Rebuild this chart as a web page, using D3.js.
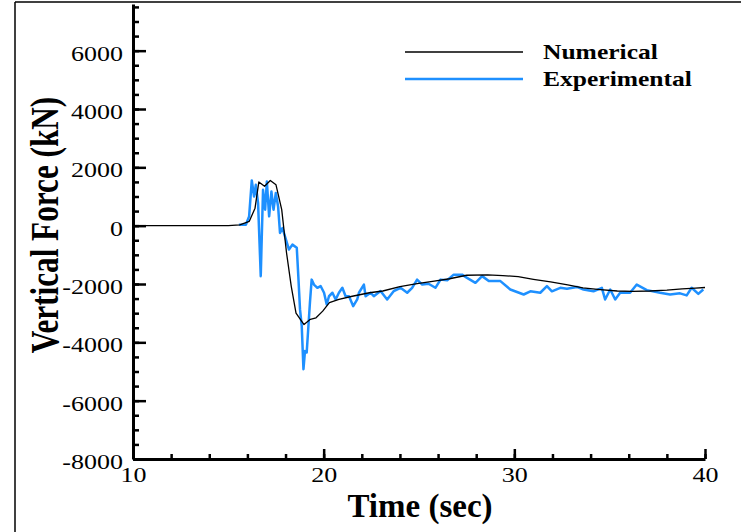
<!DOCTYPE html>
<html>
  <head>
    <meta charset="utf-8">
    <script src="https://d3js.org/d3.v7.js"></script>
    <style>
      body { margin: 0; background: #fff; }
      text { font-family: "Liberation Serif", "Times New Roman", serif; }
    </style>
  </head>
  <body>
    <svg id="myPlot" width="745" height="532"></svg>
    <script>
      // Data (time in sec, force in kN)
      var numTime  = [10, 15.0, 15.6, 16.1, 16.4, 16.6, 16.9, 17.2, 17.5, 17.8, 18.05, 18.3, 18.55, 18.97, 19.3, 19.6, 19.95, 20.3, 20.8, 21.5, 22.4, 23.1, 24.0, 24.9, 25.8, 26.6, 27.5, 28.6, 29.4, 30.2, 31.0, 31.9, 32.8, 33.6, 34.5, 35.4, 36.2, 37.1, 38.0, 38.8, 39.5, 40];
      var numForce = [0, 0, 30, 150, 600, 1500, 1350, 1550, 1400, 550, -920, -2080, -3000, -3390, -3210, -3160, -2930, -2640, -2530, -2420, -2300, -2240, -2090, -1990, -1900, -1820, -1700, -1690, -1710, -1750, -1840, -1930, -2030, -2130, -2190, -2240, -2250, -2240, -2210, -2170, -2140, -2120];

      var expTime  = [15.55, 15.92, 16.09, 16.23, 16.35, 16.44, 16.56, 16.70, 16.82, 16.93, 17.02, 17.14, 17.26, 17.37, 17.49, 17.61, 17.71, 17.84, 17.97, 18.18, 18.36, 18.59, 18.67, 18.76, 18.85, 18.94, 19.02, 19.11, 19.20, 19.28, 19.37, 19.49, 19.67, 19.84, 20.02, 20.16, 20.28, 20.46, 20.63, 20.80, 20.98, 21.15, 21.33, 21.55, 21.76, 21.85, 22.11, 22.2, 22.46, 22.63, 22.98, 23.33, 23.68, 24.03, 24.38, 24.64, 24.9, 25.17, 25.5, 25.86, 26.13, 26.48, 26.82, 27.26, 27.52, 27.96, 28.31, 28.66, 29.27, 29.79, 30.49, 30.84, 31.36, 31.71, 31.97, 32.41, 32.76, 33.28, 33.63, 34.15, 34.59, 34.76, 35.03, 35.29, 35.55, 36.07, 36.42, 36.95, 37.64, 38.17, 38.69, 39.04, 39.3, 39.65, 39.91];
      var expForce = [30, 30, 320, 1550, 1000, 1400, 775, -1730, 1230, 547, 1515, 320, 1170, 547, 1120, 660, -250, -80, -365, -820, -650, -760, -1730, -2870, -3440, -4920, -4300, -4350, -3440, -2640, -1850, -2020, -2130, -2070, -2300, -2700, -2420, -2300, -2530, -2300, -2130, -2420, -2420, -2760, -2530, -2300, -2020, -2420, -2300, -2420, -2240, -2530, -2240, -2130, -2300, -2130, -1850, -2020, -1990, -2130, -1850, -1870, -1680, -1680, -1790, -1960, -1730, -1900, -1900, -2190, -2360, -2250, -2300, -2070, -2250, -2130, -2160, -2100, -2190, -2250, -2130, -2530, -2190, -2530, -2300, -2300, -2020, -2210, -2300, -2360, -2320, -2390, -2130, -2340, -2190];

      var xMajor = [10, 20, 30, 40];
      var yMajor = [-8000, -6000, -4000, -2000, 0, 2000, 4000, 6000];
      var seriesNames = ["Numerical", "Experimental"];
      var seriesColors = ["#000000", "#1e90ff"];

      var svg = d3.select("#myPlot");

      // stretch text glyphs horizontally by a factor
      function stretch(sel, k) {
        sel.each(function () {
          var w = this.getComputedTextLength();
          d3.select(this).attr("textLength", w * k).attr("lengthAdjust", "spacingAndGlyphs");
        });
      }

      // outer frame (top and left edges)
      svg.append("line").attr("x1", 15).attr("y1", 2).attr("x2", 741).attr("y2", 2)
        .attr("stroke", "#000").attr("stroke-width", 1.5);
      svg.append("line").attr("x1", 15).attr("y1", 2).attr("x2", 15).attr("y2", 532)
        .attr("stroke", "#000").attr("stroke-width", 1.5);

      var x = d3.scaleLinear().domain([10, 40]).range([133, 705]);
      var y = d3.scaleLinear().domain([-8000, 7600]).range([459, 4]);

      // minor ticks
      svg.append("g")
        .attr("transform", "translate(0,459)")
        .call(d3.axisBottom(x).tickValues(d3.range(10, 41, 2)).tickSizeInner(-5).tickSizeOuter(0).tickFormat(""))
        .call(function (g) { g.select(".domain").remove(); g.selectAll("line").attr("stroke-width", 2.5); });
      svg.append("g")
        .attr("transform", "translate(133,0)")
        .call(d3.axisLeft(y).tickValues(d3.range(-8000, 7600, 500)).tickSizeInner(-6).tickSizeOuter(0).tickFormat(""))
        .call(function (g) { g.select(".domain").remove(); g.selectAll("line").attr("stroke-width", 2.5); });

      // X Axis
      var xAxis = svg.append("g")
        .attr("transform", "translate(0,459)")
        .call(d3.axisBottom(x).tickValues(xMajor).tickSizeInner(-10).tickSizeOuter(0).tickPadding(9)
          .tickFormat(function (d) { return String(d); }));
      xAxis.select(".domain").attr("stroke-width", 3);
      xAxis.selectAll("line").attr("stroke-width", 2.5);
      xAxis.selectAll("text")
        .attr("font-size", 20).attr("fill", "#000")
        .attr("font-family", "'Liberation Serif', serif")
        .call(stretch, 1.3);

      // Y Axis
      var yAxis = svg.append("g")
        .attr("transform", "translate(133,0)")
        .call(d3.axisLeft(y).tickValues(yMajor).tickSizeInner(-13).tickSizeOuter(0).tickPadding(10)
          .tickFormat(function (d) { return String(d); }));
      yAxis.select(".domain").attr("stroke-width", 3);
      yAxis.selectAll("line").attr("stroke-width", 2.5);
      yAxis.selectAll("text")
        .attr("font-size", 20).attr("fill", "#000").attr("dy", "0.47em")
        .attr("font-family", "'Liberation Serif', serif")
        .call(stretch, 1.3);

      // Axis titles
      svg.append("text")
        .attr("x", 420).attr("y", 517)
        .attr("text-anchor", "middle")
        .attr("font-size", 33).attr("font-weight", "bold")
        .text("Time (sec)");
      svg.append("text")
        .attr("transform", "translate(58,225) rotate(-90)")
        .attr("text-anchor", "middle")
        .attr("font-size", 39).attr("font-weight", "bold")
        .text("Vertical Force (kN)")
        .call(stretch, 0.8);

      // Lines
      var line = d3.line()
        .x(function (d) { return x(d[0]); })
        .y(function (d) { return y(d[1]); });

      var expData = expTime.map(function (t, i) { return [t, expForce[i]]; });
      var numData = numTime.map(function (t, i) { return [t, numForce[i]]; });

      svg.append("path").datum(expData)
        .attr("d", line).attr("fill", "none")
        .attr("stroke", seriesColors[1]).attr("stroke-width", 2.5)
        .attr("stroke-linejoin", "round");
      svg.append("path").datum(numData)
        .attr("d", line).attr("fill", "none")
        .attr("stroke", seriesColors[0]).attr("stroke-width", 1.3)
        .attr("stroke-linejoin", "round");

      // Legend
      var legend = svg.append("g");
      seriesNames.forEach(function (name, i) {
        var ly = 52 + i * 27;
        legend.append("line")
          .attr("x1", 405).attr("x2", 523).attr("y1", ly).attr("y2", ly)
          .attr("stroke", seriesColors[i]).attr("stroke-width", i == 0 ? 1.3 : 2.5);
        legend.append("text")
          .attr("x", 543).attr("y", ly + 7)
          .attr("font-size", 22).attr("font-weight", "bold")
          .text(name)
          .call(stretch, 1.16);
      });
    </script>
  </body>
</html>
